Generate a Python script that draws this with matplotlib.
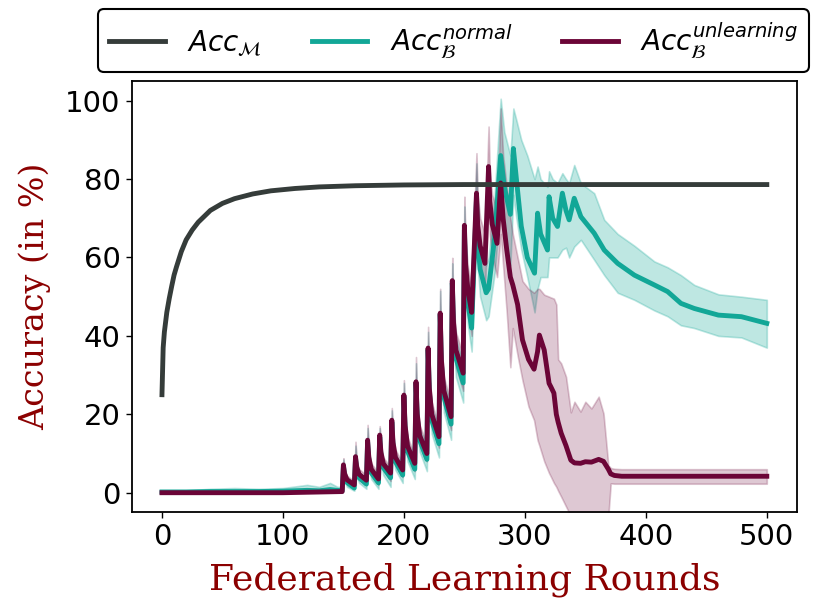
import matplotlib
matplotlib.use("Agg")
import matplotlib.pyplot as plt

# ---------------- data ----------------
rounds_model = [0, 1, 2, 4, 6, 8, 10, 12, 16, 20, 25, 30, 40, 50, 60, 75, 90,
                110, 130, 160, 200, 250, 500]
acc_model = [25, 37, 41, 46, 49.5, 52.6, 55.5, 57.6, 61.5, 64.5, 67, 69, 72,
             73.8, 75, 76.2, 77, 77.6, 78, 78.3, 78.5, 78.6, 78.6]

rounds_normal = [0, 20, 40, 60, 80, 100, 120, 130, 139, 145, 149,
                 150, 151, 153, 159, 160, 161, 163, 169, 170, 171, 173, 179,
                 180, 181, 183, 189, 190, 191, 193, 199, 200, 201, 203, 209,
                 210, 211, 213, 219, 220, 221, 223, 229, 230, 231, 233, 239,
                 240, 241, 243, 249, 250, 251, 253, 256, 260, 261, 263, 268,
                 270, 275, 280, 283, 288, 290.5, 293, 297, 302, 308,
                 310.5, 313, 318.7, 320, 323, 327, 331, 334, 336.6,
                 340.8, 346.3, 357.3, 365.6, 376.7, 390.5, 407, 418, 429, 440,
                 460, 479, 500]
acc_normal = [0.2, 0.2, 0.3, 0.3, 0.3, 0.4, 0.6, 0.5, 0.8, 0.6, 0.5,
              6.8, 4.3, 2.6, 1.2, 8.8, 5.8, 3.8, 2.2, 13.0, 8.3, 5.1, 2.5,
              14.2, 9.5, 6.4, 3.8, 18.0, 11.9, 7.9, 4.5, 24.5, 16.2, 10.6, 6.0,
              28.0, 19.2, 13.4, 8.5, 36.5, 25.7, 18.5, 12.5, 45.5, 32.9, 24.5, 17.5,
              53.5, 42.0, 34.4, 28.0, 67.0, 55.8, 48.3, 42.0, 75.0, 64.2, 57.0, 51.0,
              52.0, 65.0, 86.0, 78.0, 71.0, 87.8, 80.0, 68.0, 60.0, 56.0,
              71.3, 66.0, 61.9, 75.5, 70.0, 67.9, 76.4, 72.0, 69.6,
              75.1, 70.4, 66.2, 61.9, 58.5, 55.5, 53.0, 51.3, 48.3, 47.0,
              45.3, 44.9, 43.2]
normal_low = [0, 0, 0, 0, 0, 0, 0, 0, 0, 0, 0,
              5.0, 2.8, 1.5, 0.5, 6.5, 4.0, 2.5, 1.0, 10.5, 6.5, 3.5, 1.0,
              12.0, 7.5, 4.5, 1.5, 15.5, 9.5, 5.8, 2.5, 21.5, 13.5, 8.0, 3.5,
              25.0, 16.0, 10.5, 5.5, 33.0, 22.0, 15.0, 9.0, 41.5, 29.0, 20.5, 13.5,
              49.0, 37.5, 29.5, 23.0, 61.0, 50.0, 42.5, 36.0, 68.0, 57.5, 50.0, 44.0,
              45.0, 56.0, 74.0, 66.0, 58.0, 76.0, 70.0, 62.0, 55.0, 46.0,
              52.0, 55.0, 55.0, 60.0, 60.0, 60.0, 62.0, 62.5, 60.0,
              62.8, 64.5, 59.4, 55.5, 51.0, 49.2, 46.5, 45.0, 42.7, 42.0,
              40.0, 39.6, 37.0]
normal_high = [0.5, 0.6, 1.0, 1.2, 1.0, 1.2, 2.0, 1.5, 2.5, 1.5, 1.5,
               8.5, 5.8, 3.8, 2.5, 12.0, 7.8, 5.2, 3.5, 16.5, 10.5, 6.8, 4.0,
               16.5, 11.5, 8.3, 5.5, 21.0, 14.3, 10.0, 6.5, 28.0, 19.0, 13.2, 8.0,
               33.0, 22.5, 16.3, 11.5, 41.0, 29.5, 22.0, 16.0, 51.5, 37.0, 28.5, 21.5,
               58.5, 46.5, 39.5, 33.0, 73.0, 61.5, 54.0, 48.0, 84.0, 71.0, 63.5, 58.0,
               60.0, 76.0, 100.5, 92.0, 86.0, 98.0, 95.0, 90.0, 86.0, 80.0,
               83.2, 80.0, 78.0, 82.0, 80.0, 79.0, 81.5, 80.0, 79.0,
               83.6, 78.9, 76.4, 69.6, 66.0, 63.0, 59.0, 57.5, 55.5, 53.0,
               50.6, 50.0, 49.2]

rounds_unlearn = [0, 50, 100, 149,
                  150, 151, 153, 159, 160, 161, 163, 169, 170, 171, 173, 179,
                  180, 181, 183, 189, 190, 191, 193, 199, 200, 201, 203, 209,
                  210, 211, 213, 219, 220, 221, 223, 229, 230, 231, 233, 239,
                  240, 241, 243, 249, 250, 251, 253, 256, 260, 261, 263, 267,
                  270, 271, 273, 277,
                  280, 282, 285, 288, 290, 294, 298, 303, 307.6, 310.5,
                  312, 316, 320, 321.5, 324, 326, 327.5, 330, 334, 338,
                  341, 346, 350, 355, 361, 365, 369, 371, 374, 380, 500]
acc_unlearn = [0, 0, 0, 0.3,
               7.1, 4.8, 3.3, 2.0, 9.2, 6.5, 4.7, 3.2, 13.4, 9.0, 6.0, 3.5,
               14.7, 10.3, 7.4, 5.0, 18.5, 12.8, 9.0, 5.8, 24.9, 17.1, 11.9, 7.5,
               28.3, 20.1, 14.6, 10.0, 36.9, 26.7, 20.0, 14.3, 45.8, 33.9, 26.0, 19.4,
               54.1, 43.5, 36.4, 30.5, 68.2, 58.2, 51.5, 46.0, 76.4, 68.3, 63.0, 58.5,
               83.2, 74.4, 68.5, 63.6,
               79.0, 70.0, 62.0, 55.0, 53.0, 48.0, 39.0, 34.0, 31.5, 36.0,
               40.2, 36.4, 27.9, 27.0, 25.4, 20.0, 18.0, 15.2, 12.0, 8.3,
               7.6, 7.5, 7.9, 7.8, 8.5, 8.0, 6.0, 4.8, 4.4, 4.2, 4.2]
unlearn_low = [0, 0, 0, 0,
               5.5, 3.5, 2.3, 1.0, 7.0, 5.0, 3.3, 2.0, 11.0, 7.2, 4.5, 2.0,
               12.5, 8.5, 5.8, 3.0, 16.0, 10.6, 7.2, 4.0, 22.0, 14.5, 9.8, 5.5,
               25.5, 17.3, 12.2, 8.0, 33.0, 23.5, 17.2, 11.5, 42.0, 30.0, 22.5, 16.0,
               49.0, 39.0, 32.0, 26.0, 62.0, 52.5, 45.5, 40.0, 69.0, 61.0, 56.0, 51.0,
               74.0, 66.0, 60.5, 55.0,
               66.0, 58.0, 46.0, 32.0, 42.0, 35.0, 28.7, 22.0, 18.5, 13.4,
               12.0, 8.0, 5.0, 4.1, 2.5, 1.5, 0.5, -1.0, -3.5, -6.0,
               -10.0, -10.0, -10.0, -10.0, -10.0, -10.0, -6.0, 2.4, 2.3, 2.3, 2.3]
unlearn_high = [0.3, 0.4, 0.5, 1.0,
                8.8, 6.0, 4.3, 3.0, 13.0, 8.0, 6.0, 4.5, 17.3, 11.0, 7.5, 5.0,
                17.0, 12.3, 9.0, 6.5, 21.6, 15.0, 11.0, 7.5, 28.7, 19.8, 14.2, 9.5,
                34.6, 23.2, 17.2, 12.5, 42.3, 30.0, 23.0, 17.0, 52.0, 38.0, 29.5, 23.0,
                59.9, 48.0, 41.0, 35.0, 75.5, 64.0, 57.5, 52.0, 86.6, 76.0, 70.0, 66.0,
                93.4, 82.0, 76.0, 72.0,
                98.0, 86.0, 78.0, 70.0, 66.0, 60.0, 54.0, 52.0, 51.0, 52.0,
                52.0, 50.5, 50.0, 49.8, 49.5, 48.0, 34.0, 33.0, 29.6, 20.5,
                23.2, 20.7, 23.2, 21.5, 24.5, 20.2, 7.0, 6.3, 6.1, 6.0, 6.0]

labels = [r'$Acc_{\mathcal{M}}$', r'$Acc_{\mathcal{B}}^{normal}$',
          r'$Acc_{\mathcal{B}}^{unlearning}$']
xticks = [0, 100, 200, 300, 400, 500]
yticks = [0, 20, 40, 60, 80, 100]

# ---------------- style ----------------
c_model = '#353c3a'
c_normal = '#12a797'
c_unlearn = '#6b0537'

fig = plt.figure(figsize=(8.3, 6.14), dpi=100)
ax = fig.add_axes([0.1587, 0.1656, 0.8016, 0.7024])

ax.plot(rounds_model, acc_model, color=c_model, lw=3.5, label=labels[0], zorder=3)

ax.fill_between(rounds_normal, normal_low, normal_high, color=c_normal,
                alpha=0.27, lw=1.2, edgecolor=c_normal, zorder=1)
ax.plot(rounds_normal, acc_normal, color=c_normal, lw=3.5, label=labels[1], zorder=2)

ax.fill_between(rounds_unlearn, unlearn_low, unlearn_high, color=c_unlearn,
                alpha=0.22, lw=1.2, edgecolor=c_unlearn, zorder=1)
ax.plot(rounds_unlearn, acc_unlearn, color=c_unlearn, lw=3.5, label=labels[2], zorder=2.5)

ax.set_ylim(-5, 105)
ax.set_xlim(-25, 525)
ax.set_xticks(xticks)
ax.set_yticks(yticks)
ax.tick_params(labelsize=21, length=4.5, width=1.0)
for s in ax.spines.values():
    s.set_linewidth(1.3)
    s.set_color('black')

ax.set_xlabel('Federated Learning Rounds', family='DejaVu Serif', color='#8b0000',
              fontsize=26, labelpad=8)
ax.set_ylabel('Accuracy (in %)', family='DejaVu Serif', color='#8b0000',
              fontsize=24, labelpad=10)

leg = fig.legend(loc='lower center', bbox_to_anchor=(453.5 / 830, 1 - 72 / 614),
                 ncol=3, fontsize=20, frameon=True, fancybox=True,
                 borderaxespad=0, columnspacing=1.8, handlelength=2.0)
leg.get_frame().set_edgecolor('black')
leg.get_frame().set_linewidth(1.5)
leg.get_frame().set_alpha(1)

fig.savefig('out.png', dpi=100)
